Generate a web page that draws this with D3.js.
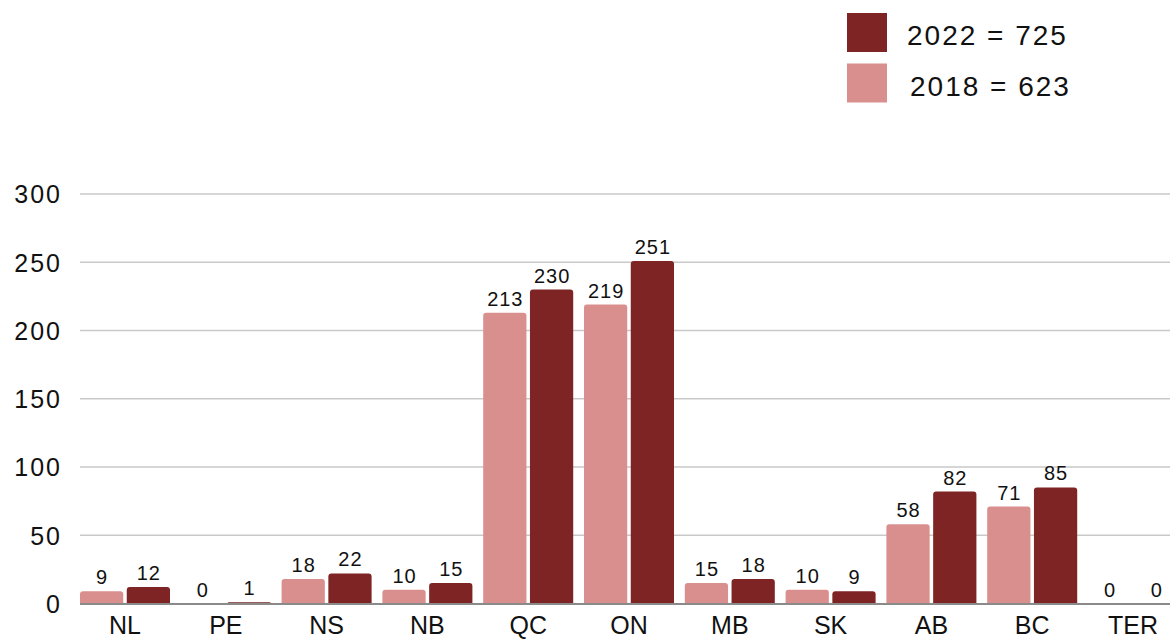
<!DOCTYPE html>
<html><head><meta charset="utf-8">
<script src="https://cdn.jsdelivr.net/npm/d3@7"></script>
<style>body{margin:0;background:#fff;}svg{display:block;font-family:"Liberation Sans",Arial,sans-serif;}</style>
</head><body>
<svg id="c" width="1170" height="640"></svg>
<script>
const categories = ["NL","PE","NS","NB","QC","ON","MB","SK","AB","BC","TER"];
const values2018 = [9,0,18,10,213,219,15,10,58,71,0];
const values2022 = [12,1,22,15,230,251,18,9,82,85,0];
const yTicks = [0,50,100,150,200,250,300];
const seriesNames = ["2018","2022"];
const legendLabels = ["2022 = 725","2018 = 623"];
const colors = {"2018":"#d98f8d","2022":"#7e2424"};

const svg = d3.select("#c");
const x0 = 74.6, step = 100.8;
const x = d3.scaleBand().domain(categories).range([x0, x0 + step*categories.length]).paddingInner(0.107).paddingOuter(0.0535);
const xs = d3.scaleBand().domain(seriesNames).range([0, x.bandwidth()]).paddingInner(0.075);
const y = d3.scaleLinear().domain([0,300]).range([603.5,194]);

// gridlines
svg.append("g").selectAll("line").data(yTicks.filter(d=>d>0)).join("line")
  .attr("x1",80).attr("x2",1170).attr("y1",d=>y(d)).attr("y2",d=>y(d))
  .attr("stroke","#c9c9c9").attr("stroke-width",1.5);

// y labels
const yAxis = d3.axisLeft(y).tickValues(yTicks).tickSize(0).tickPadding(0);
const ya = svg.append("g").attr("transform","translate(62,0)").call(yAxis);
ya.select(".domain").remove();
ya.selectAll("text").attr("font-size",25).attr("letter-spacing","2px").attr("fill","#111").attr("font-family","Liberation Sans, Arial, sans-serif").attr("dy","0.35em");

function topRounded(xp, yp, w, h, r){
  if(h<=0) return "";
  r = Math.min(r, h, w/2);
  return `M${xp},${yp+h}V${yp+r}Q${xp},${yp} ${xp+r},${yp}H${xp+w-r}Q${xp+w},${yp} ${xp+w},${yp+r}V${yp+h}Z`;
}

const data = [];
categories.forEach((c,i)=>{
  data.push({c, s:"2018", v:values2018[i]});
  data.push({c, s:"2022", v:values2022[i]});
});

svg.append("g").selectAll("path").data(data).join("path")
  .attr("d", d=>topRounded(x(d.c)+xs(d.s), y(d.v), xs.bandwidth(), y(0)-y(d.v), 3))
  .attr("fill", d=>colors[d.s]);

// baseline
svg.append("line").attr("x1",80).attr("x2",1170).attr("y1",y(0)+0.5).attr("y2",y(0)+0.5)
  .attr("stroke","#8a8a8a").attr("stroke-width",2);

// value labels
svg.append("g").selectAll("text").data(data).join("text")
  .attr("x", d=>x(d.c)+xs(d.s)+xs.bandwidth()/2 + 0.5)
  .attr("y", d=>y(d.v)-7)
  .attr("text-anchor","middle").attr("font-size",20).attr("letter-spacing","1px").attr("fill","#111")
  .text(d=>d.v);

// x labels
const xAxis = d3.axisBottom(x).tickSize(0).tickPadding(0);
const xa = svg.append("g").attr("transform","translate(0,634)").call(xAxis);
xa.select(".domain").remove();
xa.selectAll("text").attr("font-size",25).attr("fill","#111").attr("font-family","Liberation Sans, Arial, sans-serif").attr("dy","0");

// legend
const leg = svg.append("g");
const legSeries = ["2022","2018"];
legSeries.forEach((s,i)=>{
  const yy = 13 + i*50.5;
  leg.append("rect").attr("x",847).attr("y",yy).attr("width",40).attr("height",39).attr("fill",colors[s]);
  leg.append("text").attr("x", i===0?907:910).attr("y", yy+32).attr("font-size",28).attr("letter-spacing","2px").attr("fill","#111").text(legendLabels[i]);
});
</script>
</body></html>
